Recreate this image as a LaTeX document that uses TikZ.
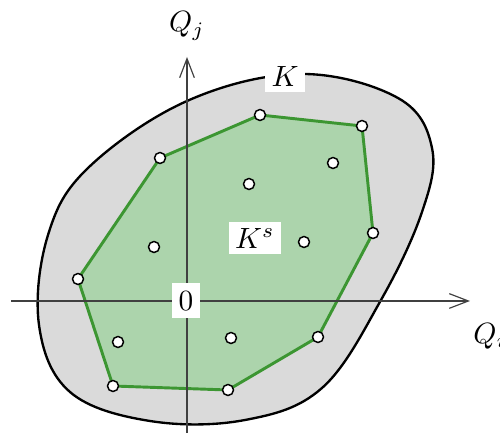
\documentclass[tikz,border=0pt]{standalone}
\usepackage{amsmath}
\usepackage{amssymb}
\usepackage{tikz}
\usepackage{xcolor}
\usetikzlibrary{arrows.meta}

\definecolor{setgray}{RGB}{218,218,218}
\definecolor{hullgreen}{RGB}{60,150,50}
\definecolor{hullfill}{RGB}{172,212,172}

\begin{document}
\begin{tikzpicture}[x=0.012cm, y=-0.012cm, >={Straight Barb[length=6.5pt,width=5pt]},
    dot/.style={circle, draw=black, fill=white, inner sep=0pt, minimum size=11*0.012cm, line width=0.5pt},
    tag/.style={fill=white, inner sep=2.2pt}]
    \useasboundingbox (0,0) rectangle (500,434);

    % Set K (smooth blob)
    \filldraw[fill=setgray, draw=black, thick]
        plot[smooth cycle, tension=0.62] coordinates {
        (300,74) (398,98) (432,148) (422,212) (381,300) (322,388) (245,420)
        (150,421) (70,392) (39,325) (48,235) (88,168) (187,101)};

    % Hull vertices
    \coordinate (v1) at (260,115);
    \coordinate (v2) at (362,126);
    \coordinate (v3) at (373,233);
    \coordinate (v4) at (318,337);
    \coordinate (v5) at (228,390);
    \coordinate (v6) at (113,386);
    \coordinate (v7) at (78,279);
    \coordinate (v8) at (160,158);

    % Convex hull K^s
    \filldraw[fill=hullfill, draw=hullgreen, line width=1pt, line join=round]
        (v1) -- (v2) -- (v3) -- (v4) -- (v5) -- (v6) -- (v7) -- (v8) -- cycle;

    % Axes
    \draw[->, black!75] (11,301) -- (470,301) coordinate (xend);
    \draw[->, black!75] (187,433) -- (187,57) coordinate (yend);
    \node (qi) [anchor=west] at (463,336) {$Q_i$};
    \node (qj) at (187,26) {$Q_j$};

    % Sample points
    \foreach \p in {v1,v2,v3,v4,v5,v6,v7,v8}
        \node[dot] at (\p) {};
    \node[dot] (s1) at (333,163) {};
    \node[dot] (s2) at (249,184) {};
    \node[dot] (s3) at (154,247) {};
    \node[dot] (s4) at (304,242) {};
    \node[dot] (s5) at (118,342) {};
    \node[dot] (s6) at (231,338) {};

    % Labels
    \node[tag] (lk) at (285,76) {$K$};
    \node[tag] (lks) at (255,238) {$K^s$};
    \node[tag, minimum height=35*0.012cm] (lzero) at (186,301) {$0$};
\end{tikzpicture}
\end{document}
